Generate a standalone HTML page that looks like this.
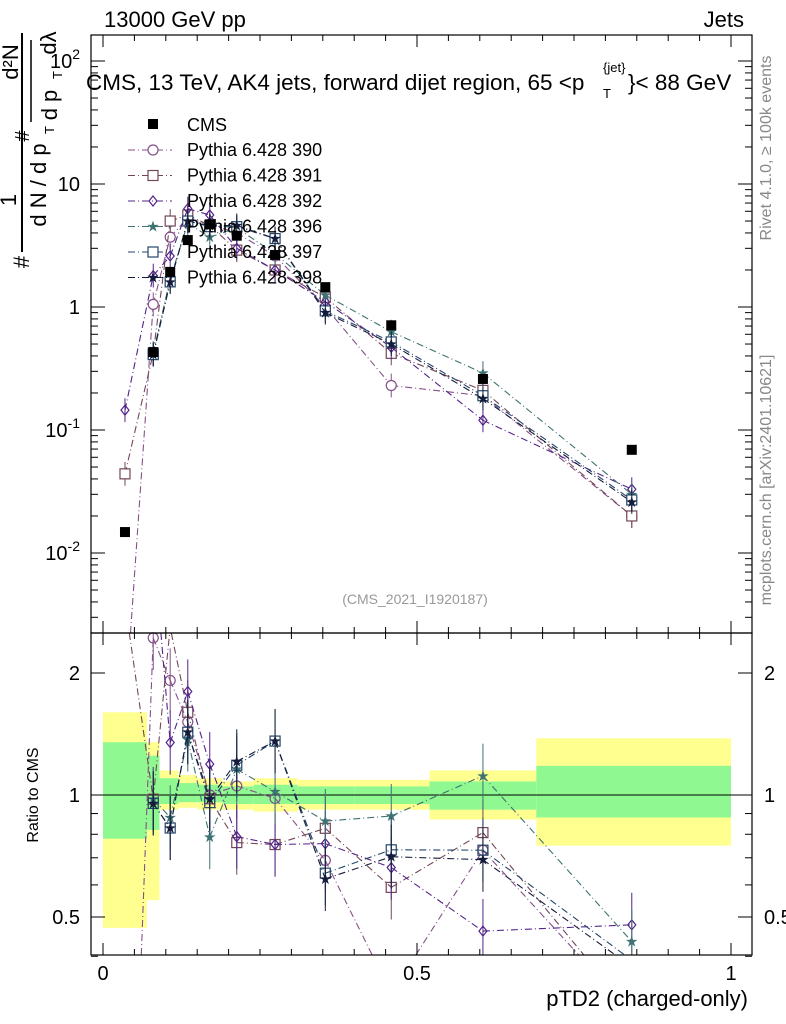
<!DOCTYPE html>
<html><head><meta charset="utf-8"><style>
html,body{margin:0;padding:0;background:#fff;width:786px;height:1024px;overflow:hidden;}
svg{font-family:"Liberation Sans",sans-serif;display:block}
</style></head><body>
<svg id="c" width="786" height="1024" viewBox="0 0 786 1024"></svg>
<script>
const xCenters=[0.035,0.08,0.107,0.135,0.17,0.213,0.274,0.354,0.459,0.605,0.842];
const cmsVals=[0.0148,0.43,1.93,3.5,4.7,3.8,2.65,1.45,0.71,0.26,0.069];
const s390=[0.0005,1.05,3.7,5.3,4.7,4.0,2.6,1.0,0.23,0.19,0.02];
const s391=[0.044,0.42,5.0,5.6,4.6,2.9,2.0,1.2,0.42,0.21,0.020];
const s392=[0.145,1.8,2.6,6.3,5.6,3.0,2.0,1.1,0.47,0.12,0.033];
const s396=[null,0.42,1.7,4.8,3.7,4.4,2.7,1.25,0.63,0.29,0.030];
const s397=[null,0.41,1.6,5.0,4.5,4.5,3.6,0.93,0.52,0.19,0.027];
const s398=[null,0.41,1.6,5.0,4.6,4.6,3.6,0.90,0.50,0.18,0.026];
const seriesNames=["Pythia 6.428 390","Pythia 6.428 391","Pythia 6.428 392","Pythia 6.428 396","Pythia 6.428 397","Pythia 6.428 398"];
const binEdges=[0,0.07,0.09,0.12,0.15,0.19,0.24,0.31,0.40,0.52,0.69,1.0];
const yelLo=[0.47,0.55,0.92,0.93,0.92,0.92,0.91,0.92,0.92,0.87,0.75];
const yelHi=[1.6,1.35,1.15,1.12,1.10,1.08,1.10,1.09,1.09,1.15,1.38];
const grnLo=[0.78,0.82,0.95,0.96,0.96,0.95,0.95,0.95,0.95,0.92,0.88];
const grnHi=[1.35,1.25,1.10,1.07,1.06,1.05,1.06,1.05,1.05,1.08,1.18];
const xTicks=[0,0.5,1];
const xTickLabels=["0","0.5","1"];
const yMainTicks=[-2,-1,0,1,2];
const ratioTicks=[0.5,1,2];

const svg=document.getElementById('c');const NS='http://www.w3.org/2000/svg';
function el(t,a,p){const e=document.createElementNS(NS,t);for(const k in a)e.setAttribute(k,a[k]);(p||svg).appendChild(e);return e;}
const L=91,R=752,T=35,M=633,B=955;
const X=v=>103+v*628;
const Y=v=>307-123*Math.log10(v);
const YR=r=>795-122*Math.log2(r);
const styles=[{c:'#85508a',m:'circle'},{c:'#734656',m:'square'},{c:'#53238a',m:'diamond'},{c:'#3f7272',m:'star'},{c:'#23466a',m:'square'},{c:'#141c3c',m:'star'}];
const allS=[s390,s391,s392,s396,s397,s398];
const clampY=(y,a,b)=>Math.max(a,Math.min(b,y));
// clip a polyline to y range [ya,yb]
function clipPath(pts,ya,yb){
 let d='';
 for(let i=0;i+1<pts.length;i++){
  let [x1,y1]=pts[i],[x2,y2]=pts[i+1];
  let t0=0,t1=1;const dy=y2-y1;
  if(dy===0){if(y1<ya||y1>yb)continue;}
  else{let ta=(ya-y1)/dy,tb=(yb-y1)/dy;if(ta>tb)[ta,tb]=[tb,ta];t0=Math.max(t0,ta);t1=Math.min(t1,tb);if(t0>t1)continue;}
  const ax=x1+(x2-x1)*t0,ay=y1+dy*t0,bx=x1+(x2-x1)*t1,by=y1+dy*t1;
  d+=`M${ax.toFixed(1)} ${ay.toFixed(1)}L${bx.toFixed(1)} ${by.toFixed(1)}`;
 }
 return d;
}

const bands=el('g',{});
for(let i=0;i<binEdges.length-1;i++){
 const x0=X(binEdges[i]),x1=X(binEdges[i+1]);
 const ty=Math.max(YR(yelHi[i]),M),by=Math.min(YR(yelLo[i]),B);
 let r=el('rect',{x:x0,y:ty,width:x1-x0,height:by-ty,fill:'#ffff90'},bands);
 
 r=el('rect',{x:x0,y:YR(grnHi[i]),width:x1-x0,height:YR(grnLo[i])-YR(grnHi[i]),fill:'#90f890'},bands);
 
}
el('line',{x1:L,x2:R,y1:YR(1),y2:YR(1),stroke:'#000','stroke-width':1});

function marker(g,m,x,y,c,fill){
 let e;
 if(m==='circle')e=el('circle',{cx:x,cy:y,r:5,fill:fill||'none',stroke:c,'stroke-width':1.2},g);
 else if(m==='square')e=el('rect',{x:x-5,y:y-5,width:10,height:10,fill:fill||'none',stroke:c,'stroke-width':1.2},g);
 else if(m==='diamond')e=el('path',{d:`M${x} ${y-5}L${x+4} ${y}L${x} ${y+5}L${x-4} ${y}Z`,fill:'none',stroke:c,'stroke-width':1.2},g);
 else e=el('text',{x:x,y:y+5,'font-size':15,'text-anchor':'middle',fill:c},g),e.textContent='★';
 return e;
}

allS.forEach((s,k)=>{
 const st=styles[k];
 const g=el('g',{});
 const gr=el('g',{});
 const pm=[],pr=[];
 s.forEach((v,i)=>{if(v==null)return;const x=X(xCenters[i]);pm.push([x,Y(v)]);pr.push([x,YR(v/cmsVals[i])]);});
 el('path',{d:clipPath(pm,T,M),fill:'none',stroke:st.c,'stroke-width':1.1,'stroke-dasharray':'7 3 1 3'},g);
 el('path',{d:clipPath(pr,M,B),fill:'none',stroke:st.c,'stroke-width':1.1,'stroke-dasharray':'7 3 1 3'},gr);
 s.forEach((v,i)=>{if(v==null)return;const x=X(xCenters[i]);
  const y=Y(v);
  if(y>T&&y<M){
   el('line',{x1:x,x2:x,y1:clampY(Y(v*1.25),T,M),y2:clampY(Y(v/1.25),T,M),stroke:st.c},g);
   marker(g,st.m,x,y,st.c,'#fff');
  }
  const r=v/cmsVals[i];const yr=YR(r);
  if(yr>M+3&&yr<B-3){
   el('line',{x1:x,x2:x,y1:clampY(YR(r*1.2),M,B),y2:clampY(YR(r/1.2),M,B),stroke:st.c},gr);
   marker(gr,st.m,x,yr,st.c,'none');
  }
 });
});
const gc=el('g',{});
cmsVals.forEach((v,i)=>{const r=el('rect',{x:X(xCenters[i])-5,y:Y(v)-5,width:10,height:10,fill:'#000'},gc);});

el('rect',{x:L,y:T,width:R-L,height:M-T,fill:'none',stroke:'#000','stroke-width':1.2,});
el('rect',{x:L,y:M,width:R-L,height:B-M,fill:'none',stroke:'#000','stroke-width':1.2,});
for(let v=0;v<=1.001;v+=0.05){const x=X(v);const big=Math.abs(v*10-Math.round(v*10))<1e-6&&Math.round(v*10)%5==0;const len=big?12:6;
 [T,M].forEach(y0=>el('line',{x1:x,x2:x,y1:y0,y2:y0+len,stroke:'#000'}));
 [M,B].forEach(y0=>el('line',{x1:x,x2:x,y1:y0,y2:y0-len,stroke:'#000'}));}
xTicks.forEach((v,i)=>{const t=el('text',{x:X(v),y:980,'font-size':20,'text-anchor':'middle'});t.textContent=xTickLabels[i];});
for(let d=-3;d<=2;d++){for(let m=1;m<10;m++){const v=m*Math.pow(10,d);const y=Y(v);if(y<T||y>M)continue;const len=m==1?14:7;
 el('line',{x1:L,x2:L+len,y1:y,y2:y,stroke:'#000'});el('line',{x1:R,x2:R-len,y1:y,y2:y,stroke:'#000'});}}
yMainTicks.forEach(d=>{const t=el('text',{x:80,y:Y(Math.pow(10,d))+7,'font-size':20,'text-anchor':'end'});
 
 if(d==0)t.textContent='1';else if(d==1)t.textContent='10';else{t.textContent='10';const s=el('tspan',{dy:-9,'font-size':14},t);s.textContent=String(d);}});
[0.4,0.5,0.6,0.7,0.8,0.9,1,2].forEach(v=>{const y=YR(v);const big=[0.5,1,2].includes(v);const len=big?14:7;
 el('line',{x1:L,x2:L+len,y1:y,y2:y,stroke:'#000'});el('line',{x1:R,x2:R-len,y1:y,y2:y,stroke:'#000'});});
ratioTicks.forEach(v=>{[[80,'end'],[764,'start']].forEach(([x,a])=>{const t=el('text',{x:x,y:YR(v)+7,'font-size':20,'text-anchor':a});t.textContent=String(v);});});

function txt(s,a,name){const t=el('text',a);t.textContent=s;return t;}
txt('13000 GeV pp',{x:104,y:27,'font-size':22},'energy-label');
txt('Jets',{x:744,y:27,'font-size':22,'text-anchor':'end'},'process-label');
txt('CMS, 13 TeV, AK4 jets, forward dijet region, 65 <p',{x:86,y:90,'font-size':22.5},'plot-title');
txt('T',{x:603,y:98,'font-size':13},'title-sub');txt('{jet}',{x:603,y:72,'font-size':13},'title-sup');
txt('}< 88 GeV',{x:628,y:90,'font-size':22.5},'title-end');
txt('(CMS_2021_I1920187)',{x:415,y:604,'font-size':14,fill:'#999','text-anchor':'middle'},'analysis-id');
txt('pTD2 (charged-only)',{x:748,y:1006,'font-size':22,'text-anchor':'end'},'x-axis-title');
txt('Ratio to CMS',{x:0,y:0,'font-size':16,'text-anchor':'middle',transform:'translate(38,795) rotate(-90)'},'ratio-y-title');
txt('Rivet 4.1.0, \u2265 100k events',{x:0,y:0,'font-size':16,fill:'#888','text-anchor':'middle',transform:'translate(771,148) rotate(-90)'},'rivet-label');
txt('mcplots.cern.ch [arXiv:2401.10621]',{x:0,y:0,'font-size':16,fill:'#888','text-anchor':'middle',transform:'translate(771,480) rotate(-90)'},'mcplots-label');
const yt=el('g',{});
el('line',{x1:22,x2:22,y1:33,y2:252,stroke:'#000','stroke-width':2},yt);
el('line',{x1:31,x2:31,y1:40,y2:122,stroke:'#000','stroke-width':1.5},yt);
[['#',29,262,22],['1',16,200,22],['d N / d p',46,185,22],['#',29,136,20],['d p',57,105,22],['d\u00b2N',18,62,22],['d\u03bb',56,43,22]].forEach(([s,x,y,f])=>{const t=el('text',{x:0,y:0,'font-size':f,'text-anchor':'middle',transform:`translate(${x},${y}) rotate(-90)`},yt);t.textContent=s;});
[['T',54,130],['T',62,75]].forEach(([s,x,y])=>{const t=el('text',{x:0,y:0,'font-size':13,'text-anchor':'middle',transform:`translate(${x},${y}) rotate(-90)`},yt);t.textContent=s;});
const lg=el('g',{});
el('rect',{x:148,y:119,width:10,height:10,fill:'#000'},lg);
let t=el('text',{x:187,y:131,'font-size':18},lg);t.textContent='CMS';
seriesNames.forEach((n,k)=>{const y=150+k*25.5;const st=styles[k];
 const e=el('g',{},lg);
 el('line',{x1:128,x2:172,y1:y,y2:y,stroke:st.c,'stroke-dasharray':'7 3 1 3'},e);
 marker(e,st.m,153,y,st.c,'#fff');
 const tt=el('text',{x:187,y:y+6,'font-size':18},e);tt.textContent=n;});
</script>
</body></html>
